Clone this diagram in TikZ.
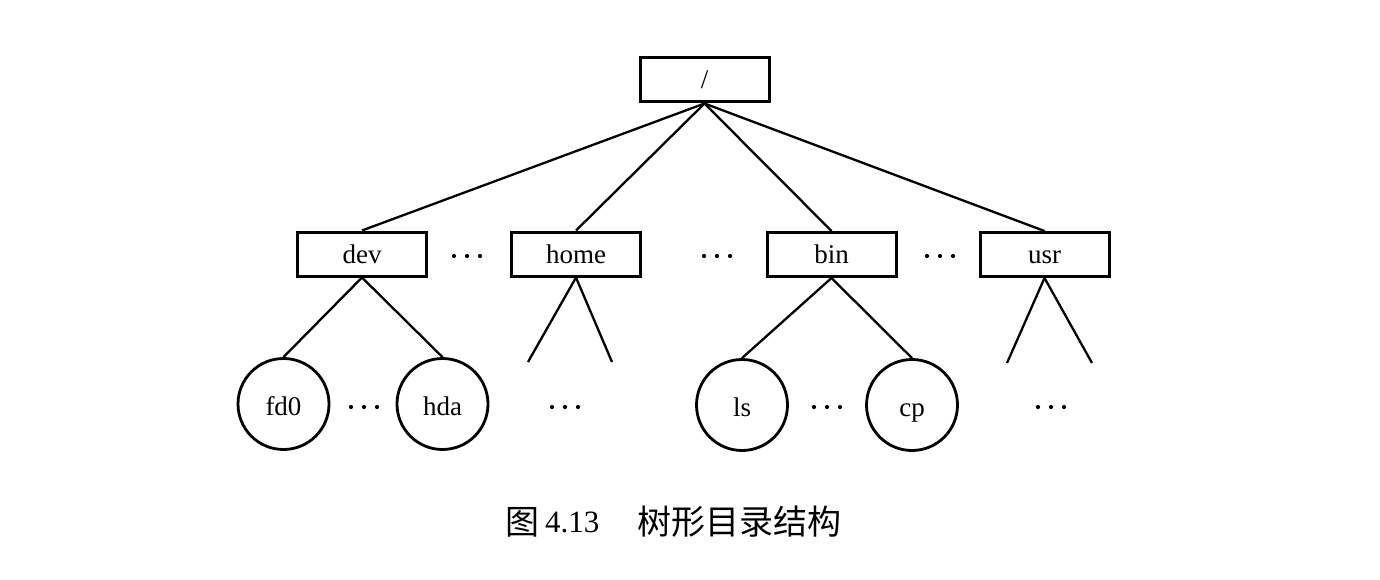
\documentclass[tikz,border=0pt]{standalone}
\usepackage{fontspec}
\setmainfont{Liberation Serif}
\newfontfamily\cjk{Noto Sans CJK SC}
\begin{document}
\begin{tikzpicture}[x=1pt,y=-1pt,
  dirbox/.style={draw, line width=3pt, minimum width=129pt, minimum height=44pt, inner sep=0pt,
    text height=22pt, text depth=4pt, font=\fontsize{27}{27}\selectfont},
  filecirc/.style={draw, circle, line width=2.8pt, minimum size=91pt, inner sep=0pt,
    text height=24pt, text depth=2pt, font=\fontsize{27}{27}\selectfont},
  edge/.style={line width=2.3pt},
  threedots/.pic={\fill (-13,0) circle (2.1pt) (0,0) circle (2.1pt) (13,0) circle (2.1pt);}]
\useasboundingbox (0,0) rectangle (1380,580);
% directories
\node[dirbox] (root) at (704.5,80) {/};
\node[dirbox] (dev)  at (362,254) {dev};
\node[dirbox] (home) at (576,254) {home};
\node[dirbox] (bin)  at (831.5,254.5) {bin};
\node[dirbox] (usr)  at (1044.5,254.5) {usr};
% files
\node[filecirc] (fd0) at (283.5,404) {fd0};
\node[filecirc] (hda) at (442.5,404) {hda};
\node[filecirc] (ls)  at (742,405) {ls};
\node[filecirc] (cp)  at (912,405) {cp};
% dots
\pic at (467,256) {threedots};
\pic at (717,256) {threedots};
\pic at (940,256) {threedots};
\pic at (364,407) {threedots};
\pic at (565,407) {threedots};
\pic at (827,407) {threedots};
\pic at (1051,407) {threedots};
% open ends
\coordinate (h1) at (528,362);
\coordinate (h2) at (612,362);
\coordinate (u1) at (1007,363);
\coordinate (u2) at (1092,363);
% edges
\draw[edge] (root.south) -- (dev.north);
\draw[edge] (root.south) -- (home.north);
\draw[edge] (root.south) -- (bin.north);
\draw[edge] (root.south) -- (usr.north);
\draw[edge] (dev.south) -- (fd0.north);
\draw[edge] (dev.south) -- (hda.north);
\draw[edge] (home.south) -- (h1);
\draw[edge] (home.south) -- (h2);
\draw[edge] (bin.south) -- (ls.north);
\draw[edge] (bin.south) -- (cp.north);
\draw[edge] (usr.south) -- (u1);
\draw[edge] (usr.south) -- (u2);
% caption
\node[anchor=west, inner sep=0pt, font=\cjk\fontsize{34}{34}\selectfont] (c1) at (505,522) {图};
\node[anchor=west, inner sep=0pt, font=\fontsize{31}{31}\selectfont] (c2) at (545,522) {4.13};
\node[anchor=west, inner sep=0pt, font=\cjk\fontsize{34}{34}\selectfont] (c3) at (637,522) {树形目录结构};
\end{tikzpicture}
\end{document}
